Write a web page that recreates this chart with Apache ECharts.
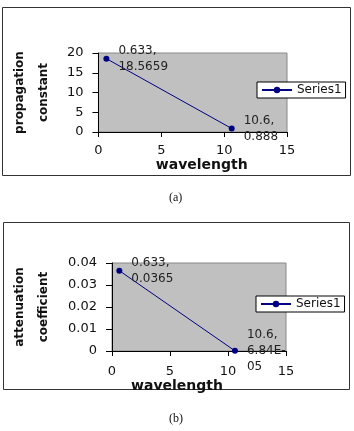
<!DOCTYPE html>
<html>
<head>
<meta charset="utf-8">
<script src="https://cdn.jsdelivr.net/npm/echarts@6/dist/echarts.min.js"></script>
<style>
  body { margin: 0; background: #fff; }
  #chart { width: 354px; height: 431px; }
</style>
</head>
<body>
<div id="chart"></div>
<script>
  // wavelength values (x) and the two measured quantities (y)
  var wavelength = [0.633, 10.6]
  var propagation = [18.5659, 0.888]
  var attenuation = [0.0365, 6.84e-5]
  var xTicks = [0, 5, 10, 15]
  var propTicks = [0, 5, 10, 15, 20]
  var attTicks = [0, 0.01, 0.02, 0.03, 0.04]

  var font = 'DejaVu Sans'

  // excel-like value text, small numbers as 6.84E-05 and wrapped
  function fmt(v) {
    if (Math.abs(v) < 0.001 && v !== 0) {
      var s = v.toExponential(2).split('e')
      var exp = parseInt(s[1], 10)
      var e = (exp < 0 ? '-' : '+') + (Math.abs(exp) < 10 ? '0' : '') + Math.abs(exp)
      return s[0] + 'E' + e.charAt(0) + '\n' + e.slice(1)
    }
    return String(v)
  }

  function pairs(xs, ys) {
    return xs.map(function (x, i) { return [x, ys[i]] })
  }

  function axisX(idx, gap, pad, margin) {
    return {
      type: 'value', gridIndex: idx, min: xTicks[0], max: xTicks[xTicks.length - 1], interval: 5,
      name: 'wavelength', nameLocation: 'middle', nameGap: gap,
      nameTextStyle: { fontFamily: font, fontWeight: 'bold', fontSize: 14, color: '#111', padding: pad },
      axisLine: { show: true, onZero: false, lineStyle: { color: '#000', width: 1 } },
      axisTick: { show: true, length: 5, lineStyle: { color: '#000' } },
      axisLabel: { fontFamily: font, fontSize: 13, color: '#111', margin: margin },
      splitLine: { show: false }
    }
  }

  function axisY(idx, name, ticks, gap) {
    return {
      type: 'value', gridIndex: idx, min: ticks[0], max: ticks[ticks.length - 1],
      interval: ticks[1] - ticks[0],
      name: name, nameLocation: 'middle', nameRotate: 90, nameGap: gap,
      nameTextStyle: { fontFamily: font, fontWeight: 'bold', fontSize: 12, color: '#111', lineHeight: 24 },
      axisLine: { show: true, lineStyle: { color: '#000', width: 1 } },
      axisTick: { show: true, length: 6, lineStyle: { color: '#000' } },
      axisLabel: { fontFamily: font, fontSize: 13, color: '#111', margin: 15 },
      splitLine: { show: false }
    }
  }

  function seriesOf(idx, ys) {
    return {
      name: 'Series1', type: 'line', xAxisIndex: idx, yAxisIndex: idx,
      data: pairs(wavelength, ys),
      symbol: 'circle', symbolSize: 6,
      itemStyle: { color: '#000080' },
      lineStyle: { color: '#000080', width: 1 },
      label: {
        show: true, position: 'right', distance: 9,
        fontFamily: font, fontSize: 12, color: '#222', lineHeight: 16, align: 'left',
        formatter: function (p) { return p.value[0] + ',\n' + fmt(p.value[1]) }
      }
    }
  }

  function legendAt(left, top) {
    return {
      left: left, top: top, data: ['Series1'],
      orient: 'vertical', padding: [2, 4],
      borderColor: '#000', borderWidth: 1, backgroundColor: '#fff',
      itemWidth: 30, itemHeight: 8, itemGap: 4,
      textStyle: { fontFamily: font, fontSize: 12, color: '#111' }
    }
  }

  var myChart = echarts.init(document.getElementById('chart'))
  myChart.setOption({
    backgroundColor: '#fff',
    animation: false,
    graphic: [
      { type: 'rect', shape: { x: 2.5, y: 7.5, width: 348, height: 168 }, style: { fill: 'none', stroke: '#333', lineWidth: 1 }, z: 0 },
      { type: 'rect', shape: { x: 3.5, y: 222.5, width: 346, height: 167 }, style: { fill: 'none', stroke: '#333', lineWidth: 1 }, z: 0 },
      { type: 'text', left: 169, top: 192, style: { text: '(a)', font: '12px "Liberation Serif"', fill: '#111' } },
      { type: 'text', left: 169, top: 413, style: { text: '(b)', font: '12px "Liberation Serif"', fill: '#111' } }
    ],
    grid: [
      { left: 94, top: 53, width: 193, height: 79, show: true, backgroundColor: '#c0c0c0', borderColor: '#888', borderWidth: 1 },
      { left: 108, top: 263, width: 178, height: 88, show: true, backgroundColor: '#c0c0c0', borderColor: '#888', borderWidth: 1 }
    ],
    legend: [legendAt(257, 82), legendAt(256, 296)],
    xAxis: [axisX(0, 24, [0, 0, 0, 18], 12), axisX(1, 23, [0, 44, 0, 0], 14)],
    yAxis: [
      axisY(0, 'propagation\nconstant', propTicks, 41),
      axisY(1, 'attenuation\ncoefficient', attTicks, 56)
    ],
    series: [seriesOf(0, propagation), seriesOf(1, attenuation)]
  })
</script>
</body>
</html>
